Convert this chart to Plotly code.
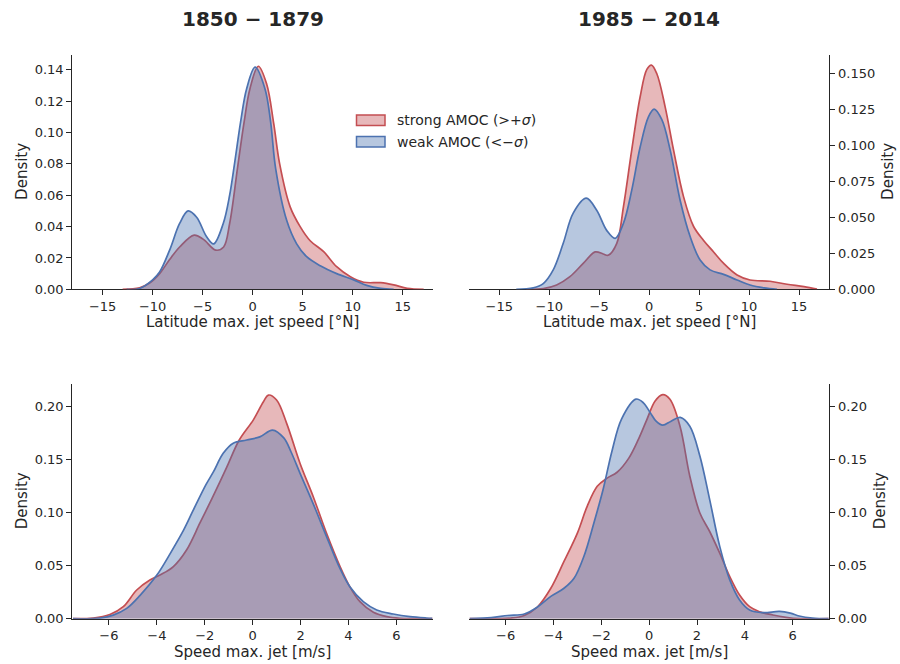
import plotly.graph_objects as go

# ---------------- data: kernel density estimates ----------------
# Latitude of max. jet speed, 1850-1879
lat_early_strong_x = [-13.0, -11.3, -10.3, -9.3, -8.3, -7.3, -5.85, -4.95, -3.7, -2.9, -2.3, -1.5, -0.87,
                      -0.27, 0.57, 1.4, 2.1, 2.7, 3.75, 4.75, 5.75, 7.1, 8.4, 9.77, 11.1, 12.8, 14.1, 15.45, 17.1]
lat_early_strong_y = [0.0, 0.001, 0.004, 0.010, 0.019, 0.027, 0.0346, 0.032, 0.025, 0.027, 0.042, 0.078, 0.106,
                      0.128, 0.1423, 0.131, 0.106, 0.080, 0.0526, 0.040, 0.031, 0.024, 0.0144, 0.008, 0.0045,
                      0.0042, 0.0028, 0.0006, 0.0]
lat_early_weak_x = [-12.6, -11.3, -10.0, -9.3, -8.3, -7.3, -6.45, -5.6, -4.6, -3.9, -2.94, -2.3, -1.77, -1.2,
                    -0.6, 0.25, 1.23, 1.8, 2.3, 3.4, 4.4, 5.4, 6.76, 8.4, 10.1, 11.4, 12.8, 14.1]
lat_early_weak_y = [0.0, 0.0005, 0.006, 0.011, 0.025, 0.042, 0.050, 0.046, 0.0335, 0.029, 0.042, 0.060, 0.082,
                    0.107, 0.128, 0.1417, 0.128, 0.1067, 0.077, 0.044, 0.029, 0.0208, 0.015, 0.010, 0.006,
                    0.0025, 0.0006, 0.0]

# Latitude of max. jet speed, 1985-2014
lat_late_strong_x = [-12.3, -10.6, -9.26, -7.93, -6.6, -5.4, -4.6, -4.1, -3.24, -2.57, -1.74, -0.9, -0.23, 0.23,
                     0.77, 1.6, 2.44, 3.44, 4.45, 5.45, 6.45, 7.46, 8.8, 10.1, 12.1, 13.8, 15.5, 16.8]
lat_late_strong_y = [0.0, 0.0005, 0.003, 0.0088, 0.018, 0.026, 0.0246, 0.0237, 0.032, 0.0576, 0.097, 0.134,
                     0.153, 0.156, 0.150, 0.127, 0.097, 0.0645, 0.0437, 0.034, 0.026, 0.018, 0.010, 0.0065,
                     0.0056, 0.0035, 0.0019, 0.0002]
lat_late_weak_x = [-13.3, -11.6, -10.6, -9.6, -8.6, -7.6, -6.3, -5.25, -4.25, -3.4, -2.57, -1.74, -0.9, -0.07,
                   0.5, 1.27, 2.1, 3.1, 4.1, 5.1, 6.1, 7.45, 8.8, 10.1, 11.5, 12.8]
lat_late_weak_y = [0.0, 0.001, 0.004, 0.0135, 0.032, 0.053, 0.0634, 0.055, 0.041, 0.0355, 0.046, 0.069, 0.099,
                   0.120, 0.1254, 0.118, 0.097, 0.062, 0.0367, 0.0204, 0.0135, 0.0104, 0.0065, 0.003, 0.001, 0.0]

# Max. jet speed, 1850-1879
spd_early_strong_x = [-7.5, -6.65, -5.96, -5.4, -4.84, -4.29, -3.87, -3.31, -2.76, -2.2, -1.7, -1.09, -0.56,
                      0.03, 0.45, 0.66, 1.0, 1.42, 1.98, 2.53, 3.09, 3.65, 4.06, 4.48, 5.04, 5.6, 6.15, 6.7, 7.5]
spd_early_strong_y = [0.0, 0.0006, 0.004, 0.0113, 0.027, 0.0364, 0.041, 0.049, 0.0646, 0.090, 0.113, 0.142,
                      0.168, 0.187, 0.204, 0.2103, 0.2056, 0.1837, 0.146, 0.1147, 0.080, 0.049, 0.030, 0.016,
                      0.006, 0.0019, 0.0003, 0.0, 0.0]
spd_early_weak_x = [-7.5, -6.37, -5.82, -5.26, -4.7, -4.0, -3.45, -2.89, -2.48, -1.95, -1.64, -1.23, -0.81,
                    -0.25, 0.3, 0.83, 1.3, 1.6, 1.98, 2.53, 3.09, 3.65, 4.06, 4.62, 5.18, 5.87, 6.57, 7.26, 7.5]
spd_early_weak_y = [0.0, 0.0006, 0.0034, 0.0097, 0.022, 0.041, 0.061, 0.083, 0.102, 0.126, 0.138, 0.1555,
                    0.165, 0.168, 0.171, 0.1774, 0.170, 0.157, 0.1367, 0.108, 0.077, 0.047, 0.030, 0.016,
                    0.0082, 0.0044, 0.0019, 0.0006, 0.0003]

# Max. jet speed, 1985-2014
spd_late_strong_x = [-7.5, -5.78, -5.22, -4.67, -4.11, -3.56, -3.0, -2.59, -2.17, -1.77, -1.34, -0.85, -0.45,
                     -0.1, 0.25, 0.57, 0.87, 1.29, 1.7, 2.12, 2.53, 2.95, 3.37, 3.78, 4.2, 4.61, 5.17, 5.72,
                     6.27, 7.5]
spd_late_strong_y = [0.0, 0.0006, 0.003, 0.011, 0.0286, 0.0538, 0.0805, 0.1057, 0.1245, 0.132, 0.1377, 0.151,
                     0.1686, 0.187, 0.2047, 0.2107, 0.2063, 0.181, 0.134, 0.0994, 0.082, 0.0616, 0.0396,
                     0.0223, 0.0113, 0.0066, 0.0035, 0.0013, 0.0, 0.0]
spd_late_weak_x = [-7.5, -6.6, -5.91, -5.22, -4.67, -4.11, -3.56, -3.14, -2.73, -2.31, -1.92, -1.55, -1.15,
                   -0.55, -0.24, 0.04, 0.3, 0.57, 0.9, 1.3, 1.7, 2.12, 2.53, 2.95, 3.37, 3.78, 4.2, 4.75,
                   5.45, 5.9, 6.27, 6.83, 7.5]
spd_late_weak_y = [0.0, 0.001, 0.003, 0.0044, 0.011, 0.021, 0.0286, 0.038, 0.0585, 0.090, 0.122, 0.158, 0.188,
                   0.2065, 0.203, 0.194, 0.1855, 0.182, 0.1855, 0.1893, 0.181, 0.153, 0.112, 0.068, 0.0365,
                   0.0176, 0.0082, 0.0057, 0.0068, 0.0052, 0.0025, 0.0006, 0.0]

period_titles = ["1850 \u2212 1879", "1985 \u2212 2014"]
legend_labels = ["strong AMOC (>+<i>\u03c3</i>)", "weak AMOC (<\u2212<i>\u03c3</i>)"]
lat_xticks = [-15, -10, -5, 0, 5, 10, 15]
spd_xticks = [-6, -4, -2, 0, 2, 4, 6]
lat_early_yticks = [0.0, 0.02, 0.04, 0.06, 0.08, 0.10, 0.12, 0.14]
lat_late_yticks = [0.0, 0.025, 0.05, 0.075, 0.10, 0.125, 0.15]
spd_yticks = [0.0, 0.05, 0.10, 0.15, 0.20]

# ---------------- styling ----------------
W, H = 900, 664
FONT = "DejaVu Sans"
INK = "#262626"
RED = "#c44e52"
BLUE = "#4c72b0"
RED_FILL = "rgba(196,78,82,0.4)"
BLUE_FILL = "rgba(76,114,176,0.4)"


def pxx(x):
    return x / W


def pxy(y):
    return 1 - y / H


fig = go.Figure()

panels = [
    # (axis suffix, strong x, strong y, weak x, weak y)
    ("", lat_early_strong_x, lat_early_strong_y, lat_early_weak_x, lat_early_weak_y),
    ("2", lat_late_strong_x, lat_late_strong_y, lat_late_weak_x, lat_late_weak_y),
    ("3", spd_early_strong_x, spd_early_strong_y, spd_early_weak_x, spd_early_weak_y),
    ("4", spd_late_strong_x, spd_late_strong_y, spd_late_weak_x, spd_late_weak_y),
]

for suf, sx, sy, wx, wy in panels:
    for xs, ys, lc, fc in ((sx, sy, RED, RED_FILL), (wx, wy, BLUE, BLUE_FILL)):
        fig.add_trace(go.Scatter(
            x=xs, y=ys, mode="lines", fill="tozeroy", fillcolor=fc,
            line=dict(color=lc, width=1.7, shape="spline", smoothing=1.0),
            xaxis="x" + suf, yaxis="y" + suf, showlegend=False, hoverinfo="skip",
        ))

# panel rectangles in pixels
left_x = (72.3, 433.0)
right_x = (469.0, 829.3)
top_y = (54.5, 289.3)
bot_y = (384.0, 618.7)

common = dict(
    showgrid=False, zeroline=False, showline=True, linecolor=INK, linewidth=1.2,
    ticks="outside", ticklen=5, tickwidth=1.2, tickcolor=INK, automargin=False,
    tickfont=dict(family=FONT, size=13, color=INK), layer="below traces",
)


def xdom(p):
    return [pxx(p[0]), pxx(p[1])]


def ydom(p):
    return [pxy(p[1]), pxy(p[0])]


fig.update_layout(
    width=W, height=H, margin=dict(l=0, r=0, t=0, b=0, pad=0, autoexpand=False),
    paper_bgcolor="white", plot_bgcolor="white", showlegend=False,
    font=dict(family=FONT, color=INK),
    xaxis=dict(domain=xdom(left_x), anchor="y", range=[-18.03, 18.03], tickvals=lat_xticks, **common),
    yaxis=dict(domain=ydom(top_y), anchor="x", range=[0, 0.1498], tickvals=lat_early_yticks,
               tickformat=".2f", **common),
    xaxis2=dict(domain=xdom(right_x), anchor="y2", range=[-18.03, 18.03], tickvals=lat_xticks, **common),
    yaxis2=dict(domain=ydom(top_y), anchor="x2", side="right", range=[0, 0.1634], tickvals=lat_late_yticks,
                tickformat=".3f", **common),
    xaxis3=dict(domain=xdom(left_x), anchor="y3", range=[-7.53, 7.53], tickvals=spd_xticks, **common),
    yaxis3=dict(domain=ydom(bot_y), anchor="x3", range=[0, 0.2207], tickvals=spd_yticks,
                tickformat=".2f", **common),
    xaxis4=dict(domain=xdom(right_x), anchor="y4", range=[-7.53, 7.53], tickvals=spd_xticks, **common),
    yaxis4=dict(domain=ydom(bot_y), anchor="x4", side="right", range=[0, 0.2207], tickvals=spd_yticks,
                tickformat=".2f", **common),
)

ann = []


def text(x, y, s, size=15, angle=0, bold=False, xanchor="center"):
    ann.append(dict(
        x=pxx(x), y=pxy(y), xref="paper", yref="paper", text=("<b>%s</b>" % s) if bold else s,
        showarrow=False, xanchor=xanchor, yanchor="middle", textangle=angle, borderpad=0,
        font=dict(family=FONT, size=size, color=INK),
    ))


# column titles
text(253, 19, period_titles[0], size=20, bold=True)
text(649, 19, period_titles[1], size=20, bold=True)

# axis titles
text(253, 322.5, "Latitude max. jet speed [\u00b0N]")
text(649, 322.5, "Latitude max. jet speed [\u00b0N]")
text(253, 651.5, "Speed max. jet [m/s]")
text(649, 651.5, "Speed max. jet [m/s]")
text(22, (top_y[0] + top_y[1]) / 2, "Density", angle=-90)
text(22, (bot_y[0] + bot_y[1]) / 2, "Density", angle=-90)
text(888, (top_y[0] + top_y[1]) / 2, "Density", angle=-90)
text(880, (bot_y[0] + bot_y[1]) / 2, "Density", angle=-90)

# legend (patch + label)
shapes = []
for (y0, y1), lc, fc, lab in (((115, 125.5), RED, RED_FILL, legend_labels[0]),
                              ((136.5, 147), BLUE, BLUE_FILL, legend_labels[1])):
    shapes.append(dict(type="rect", xref="paper", yref="paper",
                       x0=pxx(356.5), x1=pxx(385), y0=pxy(y1), y1=pxy(y0),
                       line=dict(color=lc, width=1.5), fillcolor=fc))
    text(396, (y0 + y1) / 2, lab, size=14, xanchor="left")

fig.update_layout(annotations=ann, shapes=shapes)

fig.write_html("out.html")
